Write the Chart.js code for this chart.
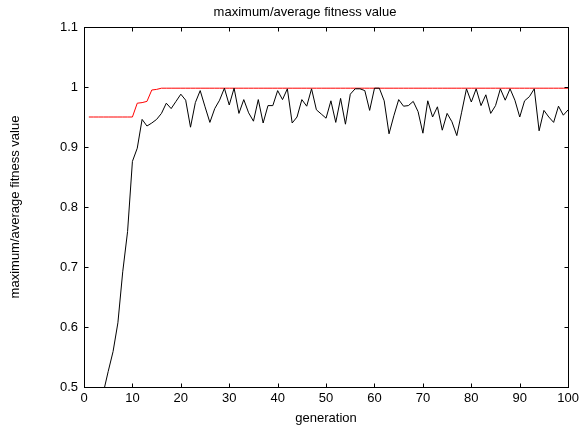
<!DOCTYPE html>
<html>
<head>
<meta charset="utf-8">
<script src="https://cdn.jsdelivr.net/npm/chart.js@4"></script>
<style>
  html, body { margin: 0; padding: 0; background: #fff; }
  #wrap { width: 583px; height: 427px; }
</style>
</head>
<body>
<div id="wrap"><canvas id="grafico" width="583" height="427"></canvas></div>
<script>
const titulo = "maximum/average fitness value";
const rotuloX = "generation";
const rotuloY = "maximum/average fitness value";

// geração 1..100
const geracoes = Array.from({ length: 100 }, (_, i) => i + 1);

// melhor aptidão por geração (linha vermelha)
const maximo = [
    0.950, 0.950, 0.950, 0.950, 0.950, 0.950, 0.950, 0.950, 0.950, 0.950,
    0.973, 0.974, 0.976, 0.995, 0.996, 0.998, 0.998, 0.998, 0.998, 0.998,
    0.998, 0.998, 0.998, 0.998, 0.998, 0.998, 0.998, 0.998, 0.998, 0.998,
    0.998, 0.998, 0.998, 0.998, 0.998, 0.998, 0.998, 0.998, 0.998, 0.998,
    0.998, 0.998, 0.998, 0.998, 0.998, 0.998, 0.998, 0.998, 0.998, 0.998,
    0.998, 0.998, 0.998, 0.998, 0.998, 0.998, 0.998, 0.998, 0.998, 0.998,
    0.998, 0.998, 0.998, 0.998, 0.998, 0.998, 0.998, 0.998, 0.998, 0.998,
    0.998, 0.998, 0.998, 0.998, 0.998, 0.998, 0.998, 0.998, 0.998, 0.998,
    0.998, 0.998, 0.998, 0.998, 0.998, 0.998, 0.998, 0.998, 0.998, 0.998,
    0.998, 0.998, 0.998, 0.998, 0.998, 0.998, 0.998, 0.998, 0.998, 0.998
];

// aptidão média por geração (linha preta)
const media = [
    0.400, 0.430, 0.460, 0.491, 0.526, 0.559, 0.607, 0.692, 0.759, 0.876,
    0.898, 0.946, 0.935, 0.940, 0.946, 0.956, 0.973, 0.964, 0.976, 0.988,
    0.978, 0.933, 0.974, 0.994, 0.967, 0.941, 0.964, 0.978, 0.998, 0.970,
    0.998, 0.956, 0.979, 0.957, 0.943, 0.979, 0.940, 0.969, 0.969, 0.994,
    0.979, 0.997, 0.940, 0.950, 0.979, 0.968, 0.997, 0.962, 0.955, 0.948,
    0.977, 0.941, 0.981, 0.938, 0.988, 0.997, 0.997, 0.994, 0.961, 0.998,
    0.998, 0.977, 0.922, 0.952, 0.979, 0.968, 0.969, 0.976, 0.959, 0.923,
    0.977, 0.950, 0.967, 0.928, 0.956, 0.942, 0.919, 0.958, 0.997, 0.975,
    0.997, 0.969, 0.987, 0.956, 0.969, 0.997, 0.978, 0.997, 0.978, 0.950,
    0.977, 0.984, 0.997, 0.927, 0.961, 0.950, 0.941, 0.968, 0.953, 0.962
];

const ticksX = [0, 10, 20, 30, 40, 50, 60, 70, 80, 90, 100];
const ticksY = [0.5, 0.6, 0.7, 0.8, 0.9, 1, 1.1];

const fonte = "'Liberation Sans', Arial, sans-serif";

// caixa estilo matlab com marcas para dentro + título
const caixaMatlab = {
    id: "caixaMatlab",
    afterDatasetsDraw(chart) {
        const { ctx, chartArea: a, scales: { x, y } } = chart;
        const L = Math.round(a.left) + 0.5, R = Math.round(a.right) + 0.5;
        const T = Math.round(a.top) + 0.5, B = Math.round(a.bottom) + 0.5;
        ctx.save();
        ctx.strokeStyle = "#000";
        ctx.lineWidth = 1;
        ctx.strokeRect(L, T, R - L, B - T);
        ctx.beginPath();
        ticksX.forEach(v => {
            const px = Math.round(x.getPixelForValue(v)) + 0.5;
            ctx.moveTo(px, B); ctx.lineTo(px, B - 4);
            ctx.moveTo(px, T); ctx.lineTo(px, T + 4);
        });
        ticksY.forEach(v => {
            const py = Math.round(y.getPixelForValue(v)) + 0.5;
            ctx.moveTo(L, py); ctx.lineTo(L + 4, py);
            ctx.moveTo(R, py); ctx.lineTo(R - 4, py);
        });
        ctx.stroke();
        ctx.fillStyle = "#000";
        ctx.font = "13px " + fonte;
        ctx.textAlign = "center";
        ctx.textBaseline = "middle";
        ctx.fillText(titulo, 305, 12);
        ctx.restore();
    }
};

const ctx = document.getElementById("grafico").getContext("2d");

new Chart(ctx, {
    type: "line",
    data: {
        labels: geracoes,
        datasets: [
            {
                label: "average",
                data: geracoes.map((g, i) => ({ x: g, y: media[i] })),
                borderColor: "#000000",
                borderWidth: 1,
                pointRadius: 0,
                tension: 0
            },
            {
                label: "maximum",
                data: geracoes.map((g, i) => ({ x: g, y: maximo[i] })),
                borderColor: "#ff0000",
                borderWidth: 1,
                pointRadius: 0,
                tension: 0
            }
        ]
    },
    options: {
        responsive: false,
        animation: false,
        events: [],
        layout: { padding: { top: 27, right: 13, left: 0, bottom: 0 } },
        plugins: {
            legend: { display: false },
            title: { display: false },
            tooltip: { enabled: false }
        },
        scales: {
            x: {
                type: "linear",
                min: 0,
                max: 100,
                afterFit: s => { s.height = 40; },
                afterBuildTicks: s => { s.ticks = ticksX.map(v => ({ value: v })); },
                grid: { display: false, drawTicks: false, tickLength: 0 },
                border: { display: false },
                ticks: { color: "#000", padding: 4, maxRotation: 0, font: { family: fonte, size: 13 } },
                title: {
                    display: true,
                    text: rotuloX,
                    color: "#000",
                    padding: { top: 0, bottom: 1 },
                    font: { family: fonte, size: 13 }
                }
            },
            y: {
                min: 0.5,
                max: 1.1,
                afterFit: s => { s.width = 84; },
                afterBuildTicks: s => { s.ticks = ticksY.map(v => ({ value: v })); },
                grid: { display: false, drawTicks: false, tickLength: 0 },
                border: { display: false },
                ticks: {
                    color: "#000",
                    padding: 6,
                    font: { family: fonte, size: 13 },
                    callback: v => String(v)
                },
                title: {
                    display: true,
                    text: rotuloY,
                    color: "#000",
                    padding: { top: 8, bottom: 0 },
                    font: { family: fonte, size: 13 }
                }
            }
        }
    },
    plugins: [caixaMatlab]
});
</script>
</body>
</html>
